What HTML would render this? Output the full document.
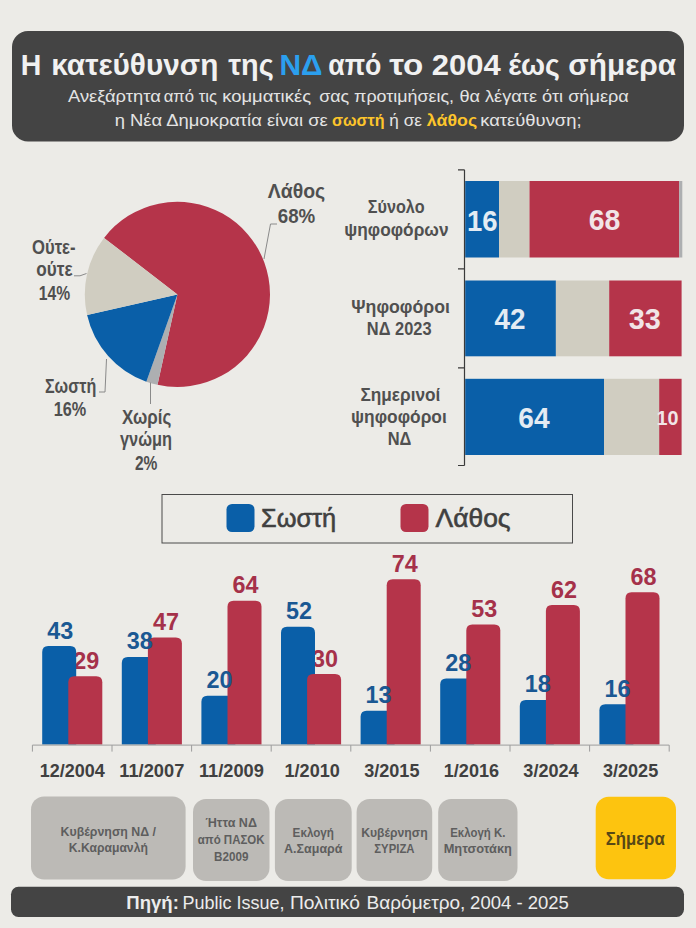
<!DOCTYPE html>
<html lang="el"><head><meta charset="utf-8"><title>Η κατεύθυνση της ΝΔ από το 2004 έως σήμερα</title>
<style>
html,body{margin:0;padding:0;background:#ECEBE7;}
body{width:696px;height:928px;overflow:hidden;}
svg{display:block;font-family:"Liberation Sans", "DejaVu Sans", sans-serif;}
</style></head><body>
<svg width="696" height="928" viewBox="0 0 696 928">
<rect width="696" height="928" fill="#ECEBE7"/>
<rect x="12" y="31" width="672" height="110.5" rx="16" fill="#444444"/>
<text x="31.0" y="74.9" font-size="30.2" font-weight="bold" fill="#F1F1F1" text-anchor="middle" textLength="20.6" lengthAdjust="spacingAndGlyphs">Η</text>
<text x="134.8" y="74.9" font-size="30.2" font-weight="bold" fill="#F1F1F1" text-anchor="middle" textLength="167.1" lengthAdjust="spacingAndGlyphs">κατεύθυνση</text>
<text x="251.0" y="74.9" font-size="30.2" font-weight="bold" fill="#F1F1F1" text-anchor="middle" textLength="45.6" lengthAdjust="spacingAndGlyphs">της</text>
<text x="301.0" y="74.9" font-size="30.2" font-weight="bold" fill="#2B9FEE" text-anchor="middle" textLength="43.1" lengthAdjust="spacingAndGlyphs">ΝΔ</text>
<text x="354.8" y="74.9" font-size="30.2" font-weight="bold" fill="#F1F1F1" text-anchor="middle" textLength="53.1" lengthAdjust="spacingAndGlyphs">από</text>
<text x="406.2" y="74.9" font-size="30.2" font-weight="bold" fill="#F1F1F1" text-anchor="middle" textLength="34.1" lengthAdjust="spacingAndGlyphs">το</text>
<text x="466.2" y="74.9" font-size="30.2" font-weight="bold" fill="#F1F1F1" text-anchor="middle" textLength="69.0" lengthAdjust="spacingAndGlyphs">2004</text>
<text x="534.0" y="74.9" font-size="30.2" font-weight="bold" fill="#F1F1F1" text-anchor="middle" textLength="51.6" lengthAdjust="spacingAndGlyphs">έως</text>
<text x="622.2" y="74.9" font-size="30.2" font-weight="bold" fill="#F1F1F1" text-anchor="middle" textLength="107.8" lengthAdjust="spacingAndGlyphs">σήμερα</text>
<text x="114.4" y="101.8" font-size="16.8" font-weight="normal" fill="#E4E4E4" text-anchor="middle" textLength="92.8" lengthAdjust="spacingAndGlyphs">Ανεξάρτητα</text>
<text x="190.4" y="101.8" font-size="16.8" font-weight="normal" fill="#E4E4E4" text-anchor="middle" textLength="53.4" lengthAdjust="spacingAndGlyphs">από τις</text>
<text x="266.6" y="101.8" font-size="16.8" font-weight="normal" fill="#E4E4E4" text-anchor="middle" textLength="88.9" lengthAdjust="spacingAndGlyphs">κομματικές</text>
<text x="386.6" y="101.8" font-size="16.8" font-weight="normal" fill="#E4E4E4" text-anchor="middle" textLength="134.9" lengthAdjust="spacingAndGlyphs">σας προτιμήσεις,</text>
<text x="544.1" y="101.8" font-size="16.8" font-weight="normal" fill="#E4E4E4" text-anchor="middle" textLength="169.4" lengthAdjust="spacingAndGlyphs">θα λέγατε ότι σήμερα</text>
<text x="221.2" y="125.6" font-size="16.8" font-weight="normal" fill="#E4E4E4" text-anchor="middle" textLength="213.1" lengthAdjust="spacingAndGlyphs">η Νέα Δημοκρατία είναι σε</text>
<text x="358.3" y="125.6" font-size="16.8" font-weight="bold" fill="#FDC52B" text-anchor="middle" textLength="52.6" lengthAdjust="spacingAndGlyphs">σωστή</text>
<text x="405.6" y="125.6" font-size="16.8" font-weight="normal" fill="#E4E4E4" text-anchor="middle" textLength="32.5" lengthAdjust="spacingAndGlyphs">ή σε</text>
<text x="452.0" y="125.6" font-size="16.8" font-weight="bold" fill="#FDC52B" text-anchor="middle" textLength="50.3" lengthAdjust="spacingAndGlyphs">λάθος</text>
<text x="530.9" y="125.6" font-size="16.8" font-weight="normal" fill="#E4E4E4" text-anchor="middle" textLength="101.3" lengthAdjust="spacingAndGlyphs">κατεύθυνση;</text>
<path d="M177.40,294.40 L104.03,237.90 A92.6,92.6 0 1 1 157.52,384.84 Z" fill="#B5344A"/>
<path d="M177.40,294.40 L157.52,384.84 A92.6,92.6 0 0 1 146.34,381.63 Z" fill="#ADAFB1"/>
<path d="M177.40,294.40 L146.34,381.63 A92.6,92.6 0 0 1 87.10,314.92 Z" fill="#0A5FA8"/>
<path d="M177.40,294.40 L87.10,314.92 A92.6,92.6 0 0 1 104.03,237.90 Z" fill="#D0CDC1"/>
<text x="296.5" y="198.0" font-size="19.6" font-weight="bold" fill="#505050" text-anchor="middle" textLength="57.5" lengthAdjust="spacingAndGlyphs">Λάθος</text>
<text x="296.5" y="223.3" font-size="19.6" font-weight="bold" fill="#505050" text-anchor="middle" textLength="37.5" lengthAdjust="spacingAndGlyphs">68%</text>
<text x="53.8" y="253.8" font-size="19.6" font-weight="bold" fill="#505050" text-anchor="middle" textLength="43.5" lengthAdjust="spacingAndGlyphs">Ούτε-</text>
<text x="54.4" y="276.3" font-size="19.6" font-weight="bold" fill="#505050" text-anchor="middle" textLength="36.3" lengthAdjust="spacingAndGlyphs">ούτε</text>
<text x="54.4" y="300.4" font-size="19.6" font-weight="bold" fill="#505050" text-anchor="middle" textLength="31.3" lengthAdjust="spacingAndGlyphs">14%</text>
<text x="70.6" y="393.0" font-size="19.6" font-weight="bold" fill="#505050" text-anchor="middle" textLength="51.3" lengthAdjust="spacingAndGlyphs">Σωστή</text>
<text x="70.0" y="415.5" font-size="19.6" font-weight="bold" fill="#505050" text-anchor="middle" textLength="32.5" lengthAdjust="spacingAndGlyphs">16%</text>
<text x="146.6" y="423.8" font-size="19.6" font-weight="bold" fill="#505050" text-anchor="middle" textLength="49.3" lengthAdjust="spacingAndGlyphs">Χωρίς</text>
<text x="146.0" y="446.0" font-size="19.6" font-weight="bold" fill="#505050" text-anchor="middle" textLength="52.0" lengthAdjust="spacingAndGlyphs">γνώμη</text>
<text x="146.2" y="469.5" font-size="19.6" font-weight="bold" fill="#505050" text-anchor="middle" textLength="22.5" lengthAdjust="spacingAndGlyphs">2%</text>
<path d="M277,224 H270.5 L264,259" fill="none" stroke="#8A8A8A" stroke-width="1"/>
<path d="M74,275.8 H80 L86.5,273.5" fill="none" stroke="#8A8A8A" stroke-width="1"/>
<path d="M99,392 H105 L106.5,359" fill="none" stroke="#8A8A8A" stroke-width="1"/>
<path d="M150.5,382.5 V404" fill="none" stroke="#8A8A8A" stroke-width="1"/>
<rect x="465.20" y="181" width="33.80" height="76.50" fill="#0A5FA8"/>
<rect x="499.00" y="181" width="30.50" height="76.50" fill="#D0CDC1"/>
<rect x="529.50" y="181" width="149.70" height="76.50" fill="#B5344A"/>
<rect x="679.20" y="181" width="3.10" height="76.50" fill="#ADAFB1"/>
<rect x="465.20" y="280.5" width="90.70" height="75.80" fill="#0A5FA8"/>
<rect x="555.90" y="280.5" width="53.30" height="75.80" fill="#D0CDC1"/>
<rect x="609.20" y="280.5" width="72.40" height="75.80" fill="#B5344A"/>
<rect x="465.20" y="378.8" width="138.80" height="76.20" fill="#0A5FA8"/>
<rect x="604.00" y="378.8" width="55.20" height="76.20" fill="#D0CDC1"/>
<rect x="659.20" y="378.8" width="22.40" height="76.20" fill="#B5344A"/>
<path d="M464.5,169.8 V465.5 M458,169.8 H464.5 M458,268.8 H464.5 M458,367.8 H464.5 M458,465.5 H464.5" fill="none" stroke="#3A3A3A" stroke-width="1.2"/>
<text x="482.2" y="230.7" font-size="29.6" font-weight="bold" fill="#E3EBF3" text-anchor="middle" textLength="30.6" lengthAdjust="spacingAndGlyphs">16</text>
<text x="604.6" y="230.4" font-size="29" font-weight="bold" fill="#F1E4E7" text-anchor="middle" textLength="31.6" lengthAdjust="spacingAndGlyphs">68</text>
<text x="510.0" y="329.2" font-size="29" font-weight="bold" fill="#E3EBF3" text-anchor="middle" textLength="31.0" lengthAdjust="spacingAndGlyphs">42</text>
<text x="644.8" y="329.2" font-size="29" font-weight="bold" fill="#F1E4E7" text-anchor="middle" textLength="32.0" lengthAdjust="spacingAndGlyphs">33</text>
<text x="534.0" y="428.2" font-size="29" font-weight="bold" fill="#E3EBF3" text-anchor="middle" textLength="31.3" lengthAdjust="spacingAndGlyphs">64</text>
<text x="667.4" y="425.3" font-size="20.9" font-weight="bold" fill="#F1E4E7" text-anchor="middle" textLength="22.0" lengthAdjust="spacingAndGlyphs">10</text>
<text x="396.2" y="212.6" font-size="18.5" font-weight="bold" fill="#505050" text-anchor="middle" textLength="56.7" lengthAdjust="spacingAndGlyphs">Σύνολο</text>
<text x="396.4" y="235.9" font-size="18.5" font-weight="bold" fill="#505050" text-anchor="middle" textLength="104.2" lengthAdjust="spacingAndGlyphs">ψηφοφόρων</text>
<text x="400.6" y="313.0" font-size="18.5" font-weight="bold" fill="#505050" text-anchor="middle" textLength="98.6" lengthAdjust="spacingAndGlyphs">Ψηφοφόροι</text>
<text x="399.2" y="335.3" font-size="18.5" font-weight="bold" fill="#505050" text-anchor="middle" textLength="64.7" lengthAdjust="spacingAndGlyphs">ΝΔ 2023</text>
<text x="400.4" y="400.9" font-size="18.5" font-weight="bold" fill="#505050" text-anchor="middle" textLength="80.0" lengthAdjust="spacingAndGlyphs">Σημερινοί</text>
<text x="398.9" y="423.4" font-size="18.5" font-weight="bold" fill="#505050" text-anchor="middle" textLength="95.7" lengthAdjust="spacingAndGlyphs">ψηφοφόροι</text>
<text x="399.6" y="445.3" font-size="18.5" font-weight="bold" fill="#505050" text-anchor="middle" textLength="23.7" lengthAdjust="spacingAndGlyphs">ΝΔ</text>
<rect x="162" y="494.5" width="410.5" height="48.5" fill="none" stroke="#4A4A4A" stroke-width="1"/>
<rect x="226.5" y="504" width="28" height="28" rx="5.5" fill="#0A5FA8"/>
<rect x="400.5" y="504" width="28" height="28" rx="5.5" fill="#B5344A"/>
<text x="261.0" y="526.8" font-size="26.4" font-weight="normal" fill="#404040" text-anchor="start" textLength="75.2" lengthAdjust="spacingAndGlyphs" stroke="#404040" stroke-width="0.6">Σωστή</text>
<text x="435.6" y="526.8" font-size="26.4" font-weight="normal" fill="#404040" text-anchor="start" textLength="75.0" lengthAdjust="spacingAndGlyphs" stroke="#404040" stroke-width="0.6">Λάθος</text>
<text x="86.3" y="668.7" font-size="23.2" font-weight="bold" fill="#A5314A" text-anchor="middle" textLength="26.0" lengthAdjust="spacingAndGlyphs">29</text>
<path d="M42.2,744.6 V652.1 Q42.2,646.1 48.2,646.1 H70.2 Q76.2,646.1 76.2,652.1 V744.6 Z" fill="#0A5FA8"/>
<path d="M68.3,744.6 V682.3 Q68.3,676.3 74.3,676.3 H96.3 Q102.3,676.3 102.3,682.3 V744.6 Z" fill="#B5344A"/>
<text x="60.2" y="638.5" font-size="23.2" font-weight="bold" fill="#1A5893" text-anchor="middle" textLength="26.0" lengthAdjust="spacingAndGlyphs">43</text>
<text x="72.2" y="776.6" font-size="19" font-weight="bold" fill="#404040" text-anchor="middle" textLength="65.0" lengthAdjust="spacingAndGlyphs">12/2004</text>
<text x="165.9" y="629.9" font-size="23.2" font-weight="bold" fill="#A5314A" text-anchor="middle" textLength="26.0" lengthAdjust="spacingAndGlyphs">47</text>
<path d="M121.8,744.6 V662.9 Q121.8,656.9 127.8,656.9 H149.8 Q155.8,656.9 155.8,662.9 V744.6 Z" fill="#0A5FA8"/>
<path d="M147.9,744.6 V643.5 Q147.9,637.5 153.9,637.5 H175.9 Q181.9,637.5 181.9,643.5 V744.6 Z" fill="#B5344A"/>
<text x="139.8" y="649.3" font-size="23.2" font-weight="bold" fill="#1A5893" text-anchor="middle" textLength="26.0" lengthAdjust="spacingAndGlyphs">38</text>
<text x="151.8" y="776.6" font-size="19" font-weight="bold" fill="#404040" text-anchor="middle" textLength="65.0" lengthAdjust="spacingAndGlyphs">11/2007</text>
<text x="245.5" y="593.2" font-size="23.2" font-weight="bold" fill="#A5314A" text-anchor="middle" textLength="26.0" lengthAdjust="spacingAndGlyphs">64</text>
<path d="M201.4,744.6 V701.7 Q201.4,695.7 207.4,695.7 H229.4 Q235.4,695.7 235.4,701.7 V744.6 Z" fill="#0A5FA8"/>
<path d="M227.5,744.6 V606.8 Q227.5,600.8 233.5,600.8 H255.5 Q261.5,600.8 261.5,606.8 V744.6 Z" fill="#B5344A"/>
<text x="219.4" y="688.1" font-size="23.2" font-weight="bold" fill="#1A5893" text-anchor="middle" textLength="26.0" lengthAdjust="spacingAndGlyphs">20</text>
<text x="231.4" y="776.6" font-size="19" font-weight="bold" fill="#404040" text-anchor="middle" textLength="65.0" lengthAdjust="spacingAndGlyphs">11/2009</text>
<text x="325.1" y="666.5" font-size="23.2" font-weight="bold" fill="#A5314A" text-anchor="middle" textLength="26.0" lengthAdjust="spacingAndGlyphs">30</text>
<path d="M281.0,744.6 V632.7 Q281.0,626.7 287.0,626.7 H309.0 Q315.0,626.7 315.0,632.7 V744.6 Z" fill="#0A5FA8"/>
<path d="M307.1,744.6 V680.1 Q307.1,674.1 313.1,674.1 H335.1 Q341.1,674.1 341.1,680.1 V744.6 Z" fill="#B5344A"/>
<text x="299.0" y="619.1" font-size="23.2" font-weight="bold" fill="#1A5893" text-anchor="middle" textLength="26.0" lengthAdjust="spacingAndGlyphs">52</text>
<text x="312.2" y="776.6" font-size="19" font-weight="bold" fill="#404040" text-anchor="middle" textLength="55.3" lengthAdjust="spacingAndGlyphs">1/2010</text>
<text x="404.7" y="571.7" font-size="23.2" font-weight="bold" fill="#A5314A" text-anchor="middle" textLength="26.0" lengthAdjust="spacingAndGlyphs">74</text>
<path d="M360.6,744.6 V716.8 Q360.6,710.8 366.6,710.8 H388.6 Q394.6,710.8 394.6,716.8 V744.6 Z" fill="#0A5FA8"/>
<path d="M386.7,744.6 V585.3 Q386.7,579.3 392.7,579.3 H414.7 Q420.7,579.3 420.7,585.3 V744.6 Z" fill="#B5344A"/>
<text x="378.6" y="703.2" font-size="23.2" font-weight="bold" fill="#1A5893" text-anchor="middle" textLength="26.0" lengthAdjust="spacingAndGlyphs">13</text>
<text x="391.8" y="776.6" font-size="19" font-weight="bold" fill="#404040" text-anchor="middle" textLength="55.3" lengthAdjust="spacingAndGlyphs">3/2015</text>
<text x="484.3" y="616.9" font-size="23.2" font-weight="bold" fill="#A5314A" text-anchor="middle" textLength="26.0" lengthAdjust="spacingAndGlyphs">53</text>
<path d="M440.2,744.6 V684.4 Q440.2,678.4 446.2,678.4 H468.2 Q474.2,678.4 474.2,684.4 V744.6 Z" fill="#0A5FA8"/>
<path d="M466.3,744.6 V630.5 Q466.3,624.5 472.3,624.5 H494.3 Q500.3,624.5 500.3,630.5 V744.6 Z" fill="#B5344A"/>
<text x="458.2" y="670.8" font-size="23.2" font-weight="bold" fill="#1A5893" text-anchor="middle" textLength="26.0" lengthAdjust="spacingAndGlyphs">28</text>
<text x="471.4" y="776.6" font-size="19" font-weight="bold" fill="#404040" text-anchor="middle" textLength="55.3" lengthAdjust="spacingAndGlyphs">1/2016</text>
<text x="563.9" y="597.5" font-size="23.2" font-weight="bold" fill="#A5314A" text-anchor="middle" textLength="26.0" lengthAdjust="spacingAndGlyphs">62</text>
<path d="M519.8,744.6 V706.0 Q519.8,700.0 525.8,700.0 H547.8 Q553.8,700.0 553.8,706.0 V744.6 Z" fill="#0A5FA8"/>
<path d="M545.9,744.6 V611.1 Q545.9,605.1 551.9,605.1 H573.9 Q579.9,605.1 579.9,611.1 V744.6 Z" fill="#B5344A"/>
<text x="537.8" y="692.4" font-size="23.2" font-weight="bold" fill="#1A5893" text-anchor="middle" textLength="26.0" lengthAdjust="spacingAndGlyphs">18</text>
<text x="551.0" y="776.6" font-size="19" font-weight="bold" fill="#404040" text-anchor="middle" textLength="55.3" lengthAdjust="spacingAndGlyphs">3/2024</text>
<text x="643.5" y="584.6" font-size="23.2" font-weight="bold" fill="#A5314A" text-anchor="middle" textLength="26.0" lengthAdjust="spacingAndGlyphs">68</text>
<path d="M599.4,744.6 V710.3 Q599.4,704.3 605.4,704.3 H627.4 Q633.4,704.3 633.4,710.3 V744.6 Z" fill="#0A5FA8"/>
<path d="M625.5,744.6 V598.2 Q625.5,592.2 631.5,592.2 H653.5 Q659.5,592.2 659.5,598.2 V744.6 Z" fill="#B5344A"/>
<text x="617.4" y="696.7" font-size="23.2" font-weight="bold" fill="#1A5893" text-anchor="middle" textLength="26.0" lengthAdjust="spacingAndGlyphs">16</text>
<text x="630.6" y="776.6" font-size="19" font-weight="bold" fill="#404040" text-anchor="middle" textLength="55.3" lengthAdjust="spacingAndGlyphs">3/2025</text>
<path d="M32.4,745.1 H669.2 M32.4,745.1 v6.5 M112.0,745.1 v6.5 M191.6,745.1 v6.5 M271.2,745.1 v6.5 M350.8,745.1 v6.5 M430.4,745.1 v6.5 M510.0,745.1 v6.5 M589.6,745.1 v6.5 M669.2,745.1 v6.5" fill="none" stroke="#9C9C9C" stroke-width="1"/>
<rect x="31.0" y="796.5" width="154.6" height="83.0" rx="13" fill="#BCBAB6"/>
<text x="108.3" y="835.5" font-size="13.4" font-weight="bold" fill="#5E5E5E" text-anchor="middle" textLength="95.4" lengthAdjust="spacingAndGlyphs">Κυβέρνηση ΝΔ /</text>
<text x="108.3" y="852.3" font-size="13.4" font-weight="bold" fill="#5E5E5E" text-anchor="middle" textLength="79.1" lengthAdjust="spacingAndGlyphs">Κ.Καραμανλή</text>
<rect x="193" y="799" width="76.5" height="82" rx="13" fill="#BCBAB6"/>
<text x="231.2" y="827.2" font-size="13.4" font-weight="bold" fill="#5E5E5E" text-anchor="middle" textLength="51.5" lengthAdjust="spacingAndGlyphs">Ήττα ΝΔ</text>
<text x="231.2" y="844.0" font-size="13.4" font-weight="bold" fill="#5E5E5E" text-anchor="middle" textLength="66.8" lengthAdjust="spacingAndGlyphs">από ΠΑΣΟΚ</text>
<text x="231.2" y="860.8" font-size="13.4" font-weight="bold" fill="#5E5E5E" text-anchor="middle" textLength="34.4" lengthAdjust="spacingAndGlyphs">Β2009</text>
<rect x="274.9" y="799" width="76.8" height="82" rx="13" fill="#BCBAB6"/>
<text x="313.3" y="836.5" font-size="13.4" font-weight="bold" fill="#5E5E5E" text-anchor="middle" textLength="41.4" lengthAdjust="spacingAndGlyphs">Εκλογή</text>
<text x="313.3" y="853.3" font-size="13.4" font-weight="bold" fill="#5E5E5E" text-anchor="middle" textLength="58.4" lengthAdjust="spacingAndGlyphs">Α.Σαμαρά</text>
<rect x="356.6" y="799" width="75.6" height="82" rx="13" fill="#BCBAB6"/>
<text x="394.4" y="836.5" font-size="13.4" font-weight="bold" fill="#5E5E5E" text-anchor="middle" textLength="66.4" lengthAdjust="spacingAndGlyphs">Κυβέρνηση</text>
<text x="394.4" y="853.3" font-size="13.4" font-weight="bold" fill="#5E5E5E" text-anchor="middle" textLength="40.2" lengthAdjust="spacingAndGlyphs">ΣΥΡΙΖΑ</text>
<rect x="438.2" y="799" width="79.3" height="82" rx="13" fill="#BCBAB6"/>
<text x="477.8" y="836.5" font-size="13.4" font-weight="bold" fill="#5E5E5E" text-anchor="middle" textLength="55.1" lengthAdjust="spacingAndGlyphs">Εκλογή Κ.</text>
<text x="477.8" y="853.3" font-size="13.4" font-weight="bold" fill="#5E5E5E" text-anchor="middle" textLength="68.3" lengthAdjust="spacingAndGlyphs">Μητσοτάκη</text>
<rect x="595.7" y="796.8" width="80.3" height="82.5" rx="13" fill="#FDC40F"/>
<text x="635.2" y="844.5" font-size="19" font-weight="bold" fill="#574816" text-anchor="middle" textLength="59.1" lengthAdjust="spacingAndGlyphs">Σήμερα</text>
<rect x="11" y="886.8" width="673" height="30.2" rx="7.5" fill="#444444"/>
<text x="152.6" y="909.3" font-size="18.6" font-weight="bold" fill="#ECECEC" text-anchor="middle" textLength="52.5" lengthAdjust="spacingAndGlyphs">Πηγή:</text>
<text x="233.5" y="909.3" font-size="18.6" font-weight="normal" fill="#ECECEC" text-anchor="middle" textLength="102.0" lengthAdjust="spacingAndGlyphs">Public Issue,</text>
<text x="324.9" y="909.3" font-size="18.6" font-weight="normal" fill="#ECECEC" text-anchor="middle" textLength="69.9" lengthAdjust="spacingAndGlyphs">Πολιτικό</text>
<text x="416.0" y="909.3" font-size="18.6" font-weight="normal" fill="#ECECEC" text-anchor="middle" textLength="98.8" lengthAdjust="spacingAndGlyphs">Βαρόμετρο,</text>
<text x="519.5" y="909.3" font-size="18.6" font-weight="normal" fill="#ECECEC" text-anchor="middle" textLength="98.8" lengthAdjust="spacingAndGlyphs">2004 - 2025</text>
</svg>
</body></html>
